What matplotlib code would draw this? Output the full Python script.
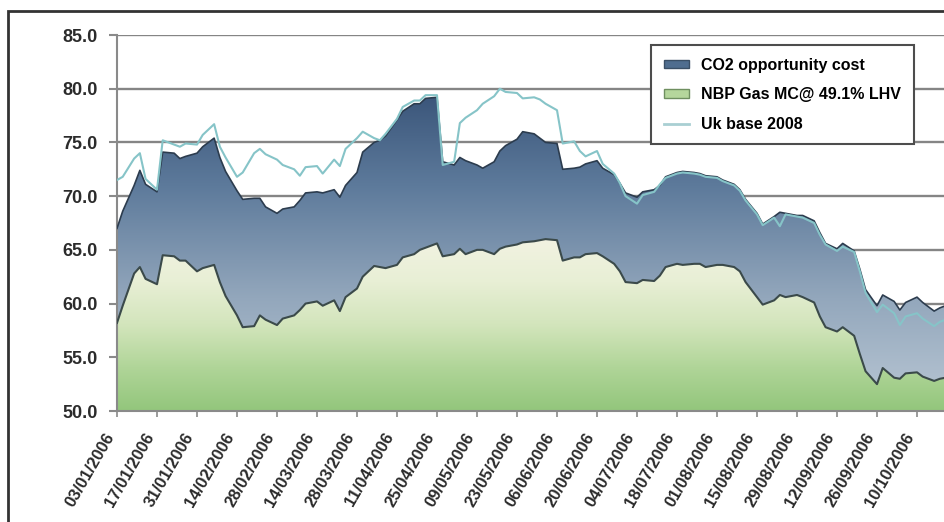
import numpy as np
import pandas as pd
import matplotlib
matplotlib.use('Agg')
import matplotlib.pyplot as plt
import matplotlib.dates as mdates
from matplotlib.colors import LinearSegmentedColormap
from matplotlib.patches import Patch, Rectangle
from matplotlib.lines import Line2D

plt.rcParams['font.family'] = ['Liberation Sans', 'DejaVu Sans']

# every second business day from 03/01/2006
dates = pd.bdate_range('2006-01-03', periods=209)[::2]

# top of the stack = gas marginal cost + CO2 opportunity cost
top = [67.0, 68.6, 71.0, 72.4, 71.1, 70.4, 74.1, 74.0, 73.5, 73.7,
       74.0, 74.6, 75.4, 73.6, 72.3, 70.5, 69.7, 69.8, 69.8, 69.0,
       68.4, 68.8, 69.0, 69.6, 70.3, 70.4, 70.3, 70.6, 69.9, 71.0,
       72.2, 74.1, 75.0, 75.2, 75.6, 77.1, 77.9, 78.6, 78.6, 79.1,
       79.2, 73.2, 72.9, 73.6, 73.3, 72.9, 72.6, 73.2, 74.2, 74.7,
       75.3, 76.0, 75.8, 75.4, 75.0, 74.9, 72.5, 72.6, 72.7, 73.0,
       73.3, 72.6, 72.0, 71.2, 70.3, 69.9, 70.4, 70.6, 71.0, 71.8,
       72.2, 72.3, 72.2, 72.1, 71.9, 71.8, 71.5, 71.1, 70.6, 69.7,
       68.4, 67.4, 68.1, 68.5, 68.4, 68.2, 68.2, 67.7, 66.6, 65.6,
       65.1, 65.6, 64.9, 63.2, 61.3, 59.8, 60.8, 60.2, 59.4, 60.1,
       60.6, 60.1, 59.3, 59.6, 59.8]

gas = [58.2, 59.8, 62.8, 63.4, 62.3, 61.8, 64.5, 64.4, 64.0, 64.0,
       63.0, 63.3, 63.6, 62.0, 60.7, 58.9, 57.8, 57.9, 58.9, 58.5,
       58.0, 58.6, 58.9, 59.4, 60.0, 60.2, 59.8, 60.3, 59.3, 60.6,
       61.4, 62.5, 63.5, 63.4, 63.3, 63.6, 64.3, 64.6, 65.0, 65.2,
       65.6, 64.4, 64.6, 65.1, 64.6, 65.0, 65.0, 64.6, 65.1, 65.3,
       65.5, 65.7, 65.8, 65.9, 66.0, 65.9, 64.0, 64.3, 64.3, 64.6,
       64.7, 64.4, 63.7, 63.0, 62.0, 61.9, 62.2, 62.1, 62.6, 63.4,
       63.7, 63.6, 63.7, 63.7, 63.4, 63.6, 63.6, 63.4, 63.0, 62.0,
       60.6, 59.9, 60.3, 60.8, 60.6, 60.8, 60.6, 60.1, 58.8, 57.8,
       57.4, 57.8, 57.0, 55.3, 53.7, 52.5, 54.0, 53.1, 53.0, 53.5,
       53.6, 53.2, 52.8, 53.0, 53.1]

uk_base = [71.5, 71.8, 73.5, 74.0, 71.6, 70.6, 75.2, 74.8, 74.6, 74.9,
           74.8, 75.7, 76.7, 74.6, 73.6, 71.8, 72.2, 74.0, 74.4, 73.9,
           73.4, 72.9, 72.5, 71.9, 72.7, 72.8, 72.1, 73.4, 72.8, 74.4,
           75.4, 76.0, 75.4, 75.2, 75.8, 77.2, 78.3, 78.9, 78.9, 79.4,
           79.4, 72.9, 73.2, 76.8, 77.3, 78.0, 78.6, 79.3, 80.0, 79.7,
           79.6, 79.1, 79.2, 79.0, 78.6, 78.0, 74.9, 75.1, 74.2, 73.7,
           74.2, 73.0, 72.1, 71.2, 70.0, 69.3, 70.1, 70.4, 71.1, 71.7,
           72.1, 72.2, 72.1, 72.0, 71.8, 71.7, 71.4, 71.0, 70.5, 69.6,
           68.3, 67.3, 68.0, 67.2, 68.3, 68.1, 68.0, 67.5, 66.4, 65.5,
           64.9, 65.3, 64.8, 63.0, 61.0, 59.2, 59.9, 59.1, 58.0, 58.8,
           59.1, 58.6, 57.9, 58.3, 58.5]

tick_dates = pd.date_range('2006-01-03', '2006-10-10', freq='14D')
labels = ['CO2 opportunity cost', 'NBP Gas MC@ 49.1% LHV', 'Uk base 2008']

fig = plt.figure(figsize=(9.44, 5.22), dpi=100)
ax = fig.add_axes([117 / 944, 1 - 411 / 522, 860 / 944, 376 / 522])

x0 = pd.Timestamp('2006-01-03')
x1 = x0 + pd.Timedelta(days=301)

blue_cmap = LinearSegmentedColormap.from_list(
    'co2', [(0, '#bac8d5'), (0.3, '#93a7bc'), (0.6, '#5d7a9b'), (1, '#243e65')])
green_cmap = LinearSegmentedColormap.from_list(
    'gas', [(0, '#93c67c'), (0.114, '#b0d598'), (0.229, '#d3e5bc'),
            (0.343, '#e8efd5'), (0.457, '#f2f3e2'), (1, '#f5f5ea')])

grad = np.linspace(0, 1, 256).reshape(-1, 1)
ext = [mdates.date2num(x0), mdates.date2num(x1), 50, 85]

# gradient fills clipped to the stacked areas
blue_poly = ax.fill_between(dates, gas, top, facecolor='none', edgecolor='none')
green_poly = ax.fill_between(dates, 50, gas, facecolor='none', edgecolor='none')
im_b = ax.imshow(grad, cmap=blue_cmap, origin='lower', extent=ext, aspect='auto', zorder=1)
im_b.set_clip_path(blue_poly.get_paths()[0], ax.transData)
im_g = ax.imshow(grad, cmap=green_cmap, origin='lower', extent=ext, aspect='auto', zorder=1)
im_g.set_clip_path(green_poly.get_paths()[0], ax.transData)

ax.plot(dates, gas, color='#3b4a4a', lw=1.5, zorder=3)
ax.plot(dates, top, color='#2c3c4e', lw=1.2, zorder=3)
ax.plot(dates, uk_base, color='#86c4c8', lw=1.5, zorder=4)

ax.set_xlim(x0, x1)
ax.set_ylim(50, 85)
ax.set_yticks(np.arange(50, 86, 5))
ax.set_yticklabels(['%.1f' % v for v in np.arange(50, 86, 5)], fontweight='bold')
ax.set_xticks(tick_dates)
ax.set_xticklabels([d.strftime('%d/%m/%Y') for d in tick_dates],
                   rotation=60, ha='right', fontweight='bold')

ax.yaxis.grid(True, color='#858585', lw=1.7)
ax.set_axisbelow(True)
for s in ['top', 'right']:
    ax.spines[s].set_visible(False)
ax.spines['left'].set_color('#8a8a8a')
ax.spines['left'].set_linewidth(1.5)
ax.spines['bottom'].set_color('#8a8a8a')
ax.spines['bottom'].set_linewidth(1.5)
ax.tick_params(axis='y', length=6, width=1.5, color='#8a8a8a', pad=8,
               labelsize=13, labelcolor='#2b2b2b')
ax.tick_params(axis='x', length=4, width=1.2, color='#8a8a8a', pad=10,
               labelsize=12, labelcolor='#2b2b2b')

handles = [Patch(facecolor='#4f6d8f', edgecolor='#3a4f66'),
           Patch(facecolor='#b5d69c', edgecolor='#6f8f60'),
           Line2D([], [], color='#a9cfd3', lw=2)]
leg = fig.legend(handles, labels, loc='upper left',
                 bbox_to_anchor=(651 / 944, 1 - 45 / 522), borderaxespad=0,
                 frameon=True, fancybox=False, edgecolor='#4d4d4d', framealpha=1,
                 prop={'weight': 'bold', 'size': 11.5},
                 handlelength=1.6, handleheight=0.45, handletextpad=0.75,
                 labelspacing=0.9, borderpad=0.8)
leg.get_frame().set_linewidth(1.5)

fig.add_artist(Rectangle((8 / 944, -0.1), 1.1, 1 - 11 / 522 + 0.1,
                         transform=fig.transFigure, fill=False,
                         edgecolor='#333333', lw=2))

fig.savefig('out.png', dpi=100)
